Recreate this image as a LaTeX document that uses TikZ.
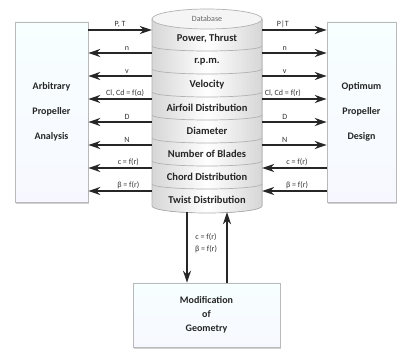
\documentclass[tikz,border=0pt]{standalone}
\usepackage{fontspec}
\setmainfont{Carlito}
\usetikzlibrary{arrows.meta,shadows}
\begin{document}
\begin{tikzpicture}[x=1pt,y=-1pt,
  box/.style={draw=gray!55, line width=0.6pt, top color=cyan!3, bottom color=cyan!10!blue!3,
    drop shadow={opacity=0.35,shadow xshift=1pt,shadow yshift=-2.5pt},
    text=black!85, align=center, inner sep=0pt},
  boxfont/.style={font=\bfseries\fontsize{10}{25}\selectfont},
  arr/.style={line width=1.3pt, draw=black!85, -{Stealth[length=12pt,width=8pt]}},
  lab/.style={font=\fontsize{8}{9}\selectfont, text=black!80, inner sep=1pt},
  band/.style={font=\bfseries\fontsize{10.5}{12}\selectfont, text=black!85, inner sep=0pt},
  sep/.style={draw=gray!60, line width=0.7pt}]

\useasboundingbox[fill=white] (0,0) rectangle (400,361);

% boxes
\node[box, boxfont, minimum width=73pt, minimum height=180pt] (L) at (51.5,112) {Arbitrary\\Propeller\\Analysis};
\node[box, boxfont, minimum width=69pt, minimum height=180pt] (R) at (361.5,112) {Optimum\\Propeller\\Design};
\node[box, font=\bfseries\fontsize{10}{14}\selectfont, minimum width=147pt, minimum height=64pt] (M) at (206.5,315) {Modification\\of\\Geometry};

% cylinder
\fill[left color=gray!32, right color=gray!32, middle color=white]
  (152,19) -- (152,206) arc[start angle=180,end angle=360,x radius=55pt,y radius=7pt] -- (262,19) -- cycle;
\foreach \k in {0,...,6}
  \draw[sep] (152,46+23*\k) arc[start angle=180,end angle=360,x radius=55pt,y radius=5pt];
\draw[gray!60, line width=0.7pt]
  (152,19) -- (152,206) arc[start angle=180,end angle=360,x radius=55pt,y radius=7pt] -- (262,19);
\draw[gray!60, line width=0.7pt, fill=gray!8] (207,19) ellipse[x radius=55pt, y radius=10pt];
\node[font=\fontsize{8}{9}\selectfont, text=gray!80!black] (db) at (207,19) {Database};
\node[minimum width=110pt, minimum height=194pt, inner sep=0pt] (cyl) at (207,115) {};

\foreach \t [count=\i from 0] in {{Power, Thrust},{r.p.m.},{Velocity},{Airfoil Distribution},{Diameter},{Number of Blades},{Chord Distribution},{Twist Distribution}}
  \node[band] (b\i) at (207,39+23*\i) {\t};

% rows
\foreach \y [count=\i] in {30,53,76,99,122,145,168,191}
  \coordinate (r\i) at (0,\y);

% left side arrows
\draw[arr] (L.east |- r1) -- (cyl.west |- r1) node[lab, pos=0.5, above=0.5pt] {P, T};
\draw[arr] (cyl.west |- r2) -- (L.east |- r2) node[lab, pos=0.39, above=0.5pt] {n};
\draw[arr] (cyl.west |- r3) -- (L.east |- r3) node[lab, pos=0.39, above=0.5pt] {v};
\draw[arr] (cyl.west |- r4) -- (L.east |- r4) node[lab, pos=0.42, above=0.5pt] {Cl, Cd = f(α)};
\draw[arr] (cyl.west |- r5) -- (L.east |- r5) node[lab, pos=0.39, above=0.5pt] {D};
\draw[arr] (cyl.west |- r6) -- (L.east |- r6) node[lab, pos=0.39, above=0.5pt] {N};
\draw[arr] (cyl.west |- r7) -- (L.east |- r7) node[lab, pos=0.37, above=0.5pt] {c = f(r)};
\draw[arr] (cyl.west |- r8) -- (L.east |- r8) node[lab, pos=0.37, above=0.5pt] {β = f(r)};

% right side arrows
\draw[arr] (cyl.east |- r1) -- (R.west |- r1) node[lab, pos=0.32, above=0.5pt] {P|T};
\draw[arr] (cyl.east |- r2) -- (R.west |- r2) node[lab, pos=0.35, above=0.5pt] {n};
\draw[arr] (cyl.east |- r3) -- (R.west |- r3) node[lab, pos=0.35, above=0.5pt] {v};
\draw[arr] (cyl.east |- r4) -- (R.west |- r4) node[lab, pos=0.32, above=0.5pt] {Cl, Cd = f(r)};
\draw[arr] (cyl.east |- r5) -- (R.west |- r5) node[lab, pos=0.35, above=0.5pt] {D};
\draw[arr] (cyl.east |- r6) -- (R.west |- r6) node[lab, pos=0.35, above=0.5pt] {N};
\draw[arr] (R.west |- r7) -- (cyl.east |- r7) node[lab, pos=0.46, above=0.5pt] {c = f(r)};
\draw[arr] (R.west |- r8) -- (cyl.east |- r8) node[lab, pos=0.46, above=0.5pt] {β = f(r)};

% bottom arrows
\coordinate (dn) at (187,0);
\coordinate (up) at (227,0);
\draw[arr] (cyl.south -| dn) -- (M.north -| dn);
\draw[arr] (M.north -| up) -- (cyl.south -| up);
\node[lab, align=center, font=\fontsize{8}{12}\selectfont] (bl) at (206,243) {c = f(r)\\β = f(r)};
\end{tikzpicture}
\end{document}
